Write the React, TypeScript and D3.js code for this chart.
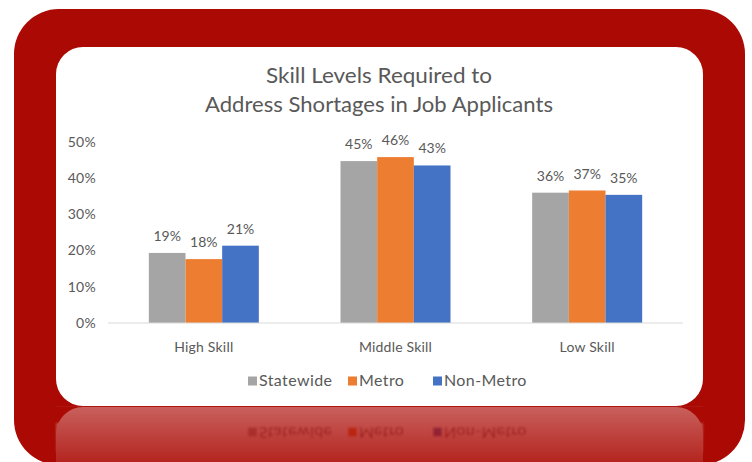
import React from "react";
import * as d3 from "d3";

const categories = ["High Skill", "Middle Skill", "Low Skill"];
const seriesNames = ["Statewide", "Metro", "Non-Metro"];
const statewide = [19.3, 44.6, 35.9];
const metro = [17.6, 45.7, 36.5];
const nonMetro = [21.3, 43.4, 35.3];
const yTicks = [0, 10, 20, 30, 40, 50];
const titleLines = ["Skill Levels Required to", "Address Shortages in Job Applicants"];
const colors = ["#a5a5a5", "#ed7d31", "#4472c4"];

const W = 752;
const H = 462;
const FONT = "Lato, 'Open Sans', sans-serif";
const TXT = "#595959";

export default function App() {
  const seriesValues = [statewide, metro, nonMetro];
  const x = d3.scaleBand<string>().domain(categories).range([108, 683]).padding(0);
  const inner = d3.scaleBand<string>().domain(seriesNames).range([-55, 55]).padding(0);
  const y = d3.scaleLinear().domain([0, 50]).range([323, 141.5]);
  const legendX = [248, 348, 433];
  const titleWidths = [226, 348];
  const mirrorY = 406.5;

  const legend = (key: string) => (
    <g key={key}>
      {seriesNames.map((s, i) => (
        <g key={s}>
          <rect x={legendX[i]} y={376.5} width={9} height={9} fill={colors[i]} />
          <text
            x={legendX[i] + 11}
            y={386}
            fontSize={16}
            letterSpacing={0.4}
            fill={TXT}
            fontFamily={FONT}
          >
            {s}
          </text>
        </g>
      ))}
    </g>
  );

  return (
    <svg width={W} height={H} style={{ position: "absolute", left: 0, top: 0 }}>
      <defs>
        <linearGradient id="reflGrad" x1="0" y1="0" x2="0" y2="1">
          <stop offset="0" stopColor="#fff" stopOpacity={0.36} />
          <stop offset="1" stopColor="#fff" stopOpacity={0.1} />
        </linearGradient>
        <mask id="reflMask" maskUnits="userSpaceOnUse" x={0} y={406} width={W} height={60}>
          <rect x={0} y={406} width={W} height={60} fill="url(#reflGrad)" />
        </mask>
        <filter id="blur1">
          <feGaussianBlur stdDeviation={0.8} />
        </filter>
      </defs>
      <rect x={0} y={0} width={W} height={H} fill="#fff" />
      <rect x={14} y={9} width={731} height={456} rx={45} ry={45} fill="#ab0903" />
      <rect x={56} y={47} width={647} height={359} rx={27} ry={27} fill="#fff" />

      {/* reflection */}
      <g mask="url(#reflMask)">
        <g transform={`translate(0, ${2 * mirrorY}) scale(1,-1)`}>
          <rect x={56} y={47} width={647} height={359} rx={27} ry={27} fill="#fff" />
          <g filter="url(#blur1)">
            <rect x={56} y={360} width={647} height={30} fill="#fff" />
            {legend("refl")}
          </g>
        </g>
      </g>
      <line x1={56} x2={703} y1={406.5} y2={406.5} stroke="#b02020" strokeOpacity={0.6} />

      {/* title */}
      {titleLines.map((t, i) => (
        <text
          key={t}
          x={379}
          y={83 + i * 29}
          textAnchor="middle"
          fontSize={20.5}
          textLength={titleWidths[i]}
          lengthAdjust="spacingAndGlyphs"
          fill={TXT}
          fontFamily={FONT}
        >
          {t}
        </text>
      ))}

      {/* y ticks */}
      {yTicks.map((t) => (
        <text
          key={t}
          x={96}
          y={y(t) + 5}
          textAnchor="end"
          fontSize={14}
          letterSpacing={0.3}
          fill={TXT}
          fontFamily={FONT}
        >
          {t}%
        </text>
      ))}

      {/* bars */}
      {categories.map((c, ci) => (
        <g key={c} transform={`translate(${(x(c) ?? 0) + x.bandwidth() / 2},0)`}>
          {seriesNames.map((s, si) => {
            const v = seriesValues[si][ci];
            const bx = inner(s) ?? 0;
            return (
              <g key={s}>
                <rect
                  x={bx}
                  y={y(v)}
                  width={inner.bandwidth()}
                  height={y(0) - y(v)}
                  fill={colors[si]}
                />
                <text
                  x={bx + inner.bandwidth() / 2}
                  y={y(v) - 12}
                  textAnchor="middle"
                  fontSize={14}
                  fill={TXT}
                  fontFamily={FONT}
                >
                  {Math.round(v)}%
                </text>
              </g>
            );
          })}
          <text
            y={352}
            textAnchor="middle"
            fontSize={14}
            letterSpacing={0.2}
            fill={TXT}
            fontFamily={FONT}
          >
            {c}
          </text>
        </g>
      ))}

      <line x1={108} x2={683} y1={y(0)} y2={y(0)} stroke="#d9d9d9" strokeWidth={1} />

      {legend("main")}
    </svg>
  );
}
